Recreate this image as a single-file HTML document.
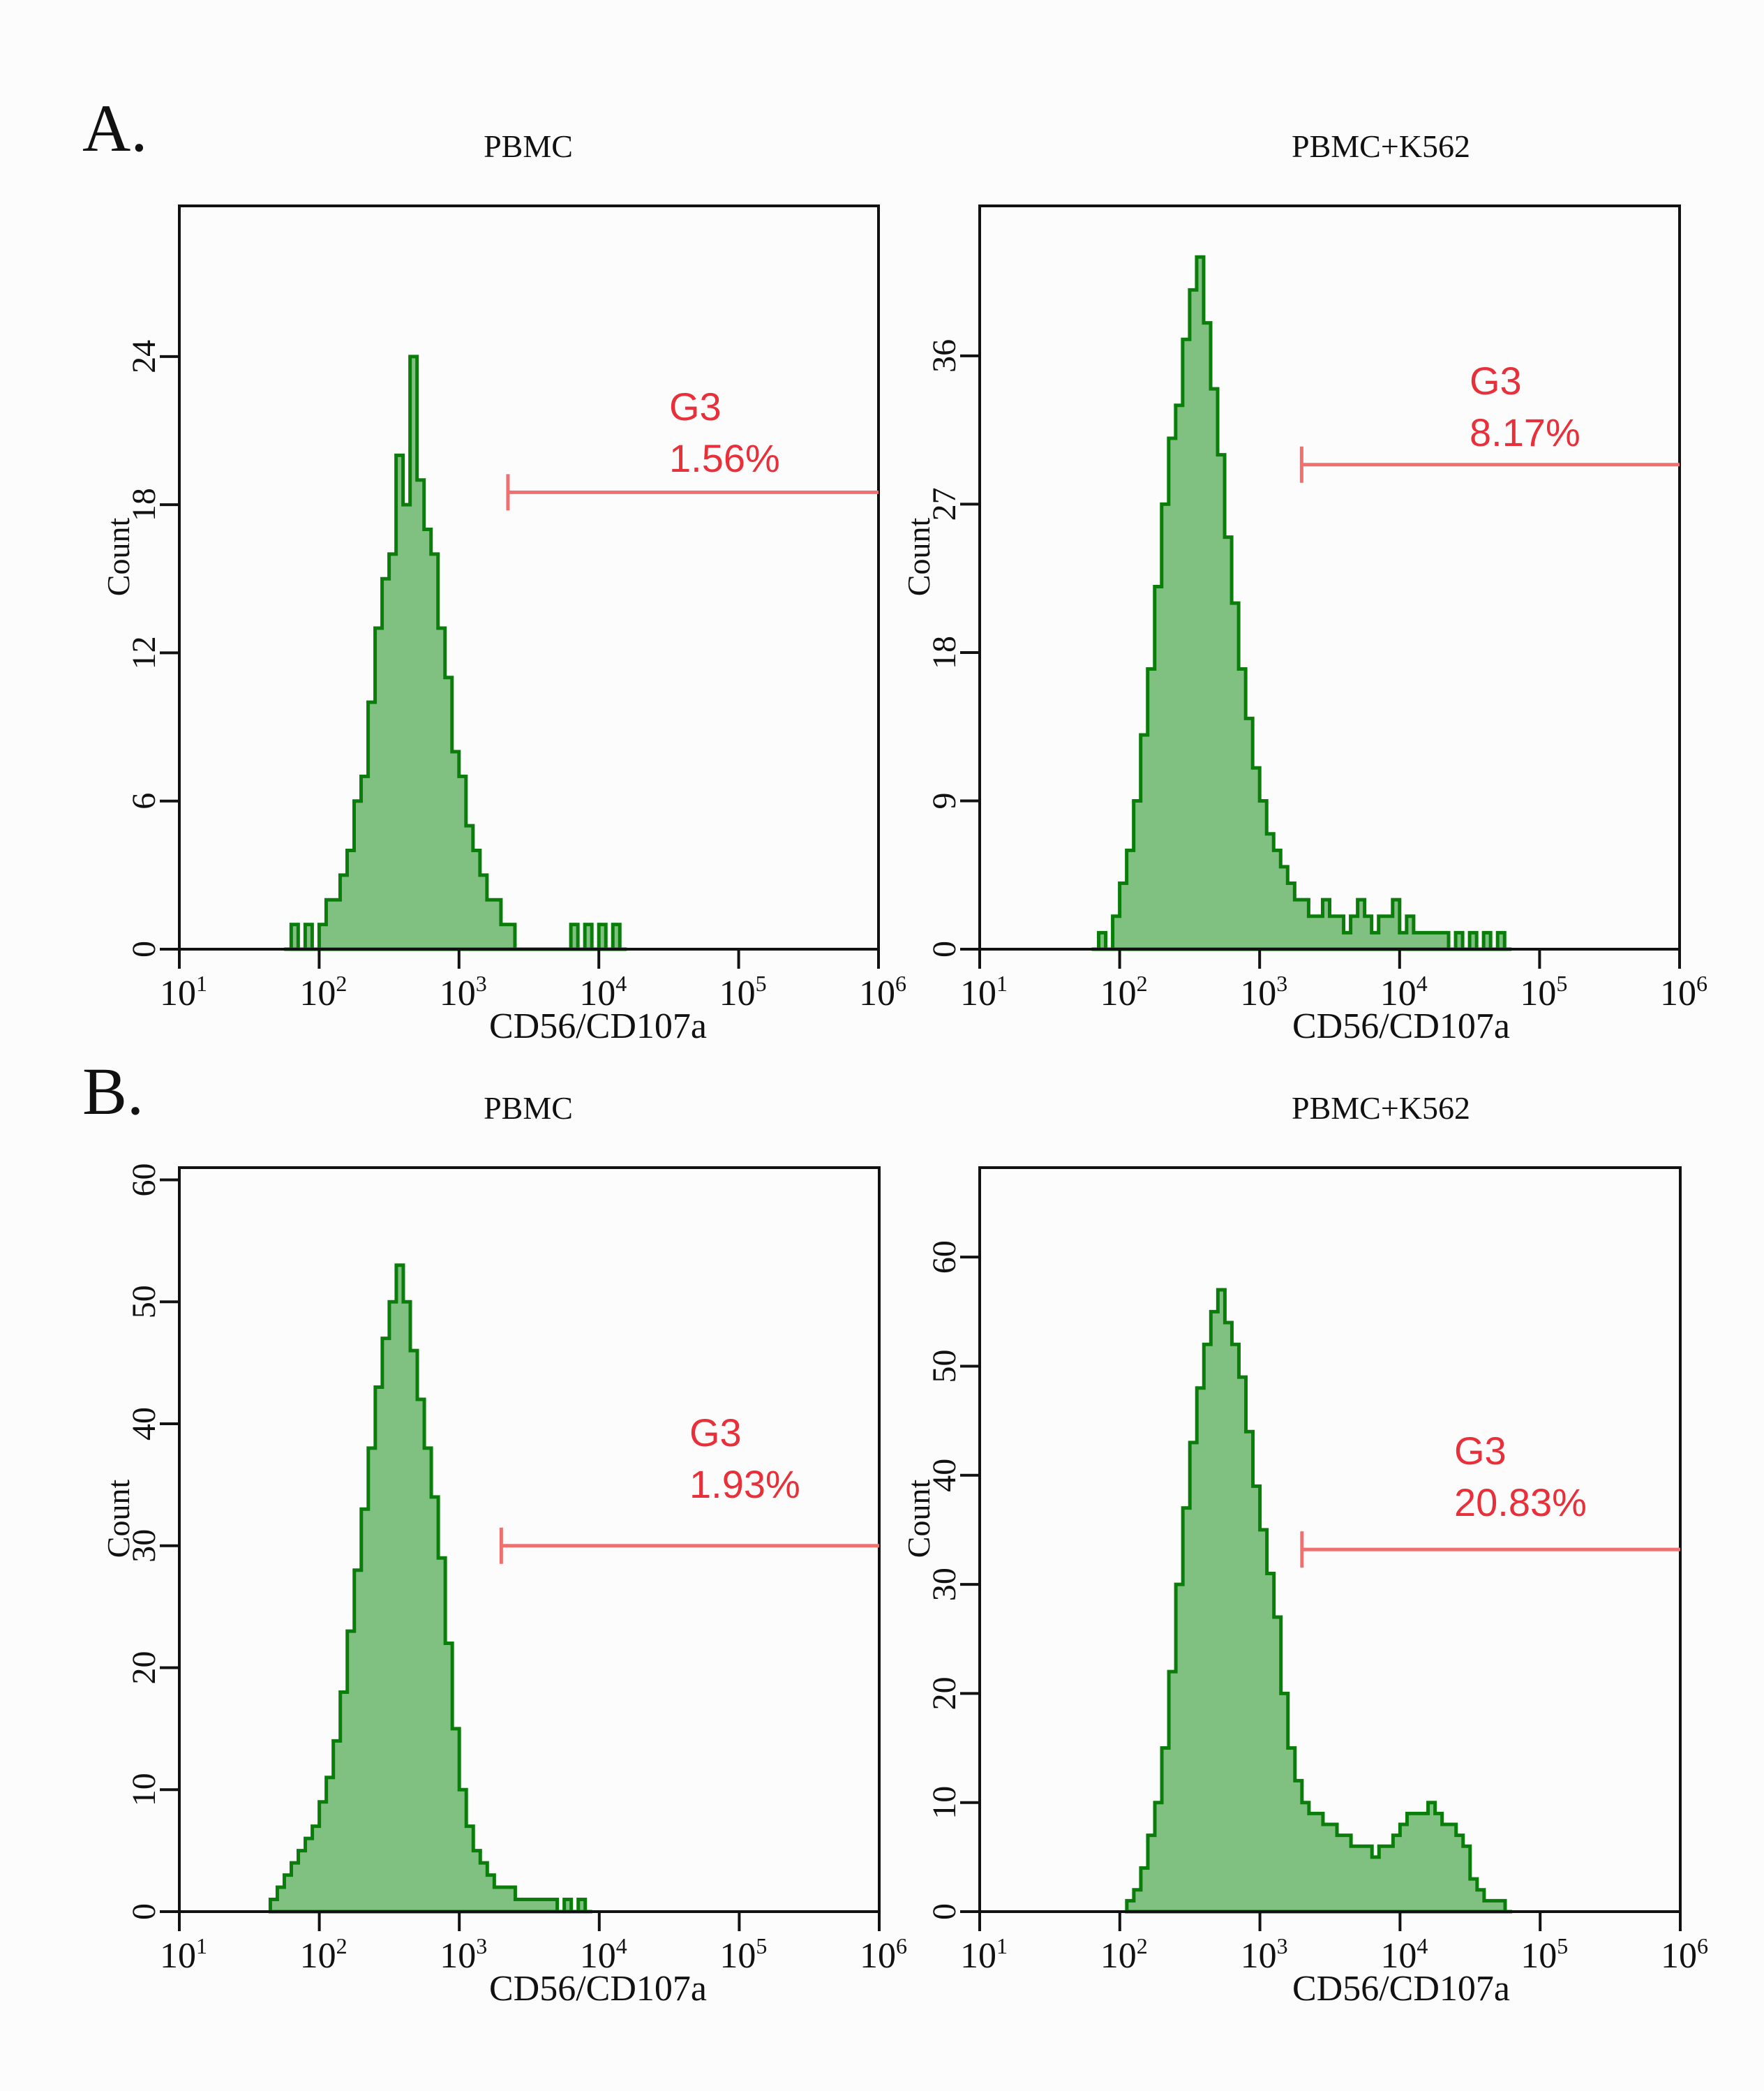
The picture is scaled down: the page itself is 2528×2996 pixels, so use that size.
<!DOCTYPE html>
<html><head><meta charset="utf-8"><style>
html,body{margin:0;padding:0;background:#fdfcfd;}
svg{display:block;}
text{font-family:"Liberation Serif",serif;fill:#111;}
.g3{font-family:"Liberation Sans",sans-serif;fill:#e8303a;font-size:56px;}
</style></head><body>
<svg id="fig" width="2528" height="2996" viewBox="0 0 2528 2996" xmlns="http://www.w3.org/2000/svg">
<rect x="0" y="0" width="2528" height="2996" fill="#fdfcfd"/>
<text x="118" y="216" font-size="96">A.</text>
<text x="118" y="1596" font-size="96">B.</text>
</svg>
<script>
// bin start positions (log10 units), step 0.05
const binStep = 0.05;
const tlStart = 1.75;
const tlCounts = [0,1,0,1,0,1,2,2,3,4,6,7,10,13,15,16,20,18,24,19,17,16,13,11,8,7,5,4,3,2,2,1,1,0,0,0,0,0,0,0,0,1,0,1,0,1,0,1,0];
const trStart = 1.80;
const trCounts = [0,1,0,2,4,6,9,13,17,22,27,31,33,37,40,42,38,34,30,25,21,17,14,11,9,7,6,5,4,3,3,2,2,3,2,2,1,2,3,2,1,2,2,3,1,2,1,1,1,1,1,0,1,0,1,0,1,0,1,0];
const blStart = 1.65;
const blCounts = [1,2,3,4,5,6,7,9,11,14,18,23,28,33,38,43,47,50,53,50,46,42,38,34,29,22,15,10,7,5,4,3,2,2,2,1,1,1,1,1,1,0,1,0,1,0];
const brStart = 2.05;
const brCounts = [1,2,4,7,10,15,22,30,37,43,48,52,55,57,54,52,49,44,39,35,31,27,20,15,12,10,9,9,8,8,7,7,6,6,6,5,6,6,7,8,9,9,9,10,9,8,8,7,6,3,2,1,1,1,0];
const xTickExps = ["1","2","3","4","5","6"];
const tlYTicks = [0,6,12,18,24];
const trYTicks = [0,9,18,27,36];
const blYTicks = [0,10,20,30,40,50,60];
const brYTicks = [0,10,20,30,40,50,60];
const tlYMax = 30.1, trYMax = 45.1, blYMax = 61.0, brYMax = 68.2;
const gateLabels = ["1.56%","8.17%","1.93%","20.83%"];
const gateLevels = [18.5, 29.4, 30.0, 33.2];
const gateStartLog = [3.35, 3.3, 3.3, 3.3];

const NS = "http://www.w3.org/2000/svg";
const svg = document.getElementById('fig');
function mk(tag, attrs, parent){
  const e = document.createElementNS(NS, tag);
  for (const k in attrs) e.setAttribute(k, attrs[k]);
  (parent||svg).appendChild(e);
  return e;
}
const panels = [
  {x0:257,x1:1259,y0:295,y1:1360,start:tlStart,counts:tlCounts,ticks:tlYTicks,ymax:tlYMax,title:"PBMC",tcx:757,xcx:857,gi:0,gx:959,gy:602,name:"a-pbmc"},
  {x0:1404,x1:2407,y0:295,y1:1360,start:trStart,counts:trCounts,ticks:trYTicks,ymax:trYMax,title:"PBMC+K562",tcx:1979,xcx:2008,gi:1,gx:2106,gy:565,name:"a-pbmc-k562"},
  {x0:257,x1:1260,y0:1673,y1:2739,start:blStart,counts:blCounts,ticks:blYTicks,ymax:blYMax,title:"PBMC",tcx:757,xcx:857,gi:2,gx:988,gy:2072,name:"b-pbmc"},
  {x0:1404,x1:2408,y0:1673,y1:2739,start:brStart,counts:brCounts,ticks:brYTicks,ymax:brYMax,title:"PBMC+K562",tcx:1979,xcx:2008,gi:3,gx:2084,gy:2098,name:"b-pbmc-k562"}
];
panels.forEach(p=>{
  const g = mk('g',{});
  
  
  const xs = l => p.x0 + (l-1)/5*(p.x1-p.x0);
  const ys = v => p.y1 - v/p.ymax*(p.y1-p.y0);
  const t = mk('text',{x:p.tcx,y:p.y0-70,'font-size':46,'text-anchor':'middle'},g);
  
  
  t.textContent = p.title;
  let d = 'M'+xs(p.start)+','+ys(0);
  p.counts.forEach((c,i)=>{
    const a = xs(p.start+i*binStep), b = xs(p.start+(i+1)*binStep);
    d += ' L'+a+','+ys(c)+' L'+b+','+ys(c);
  });
  d += ' L'+xs(p.start+p.counts.length*binStep)+','+ys(0)+' Z';
  const h = mk('path',{d:d,fill:'#80c080',stroke:'#0b7d0b','stroke-width':5,'stroke-linejoin':'miter'},g);
  
  
  const fr = mk('rect',{x:p.x0,y:p.y0,width:p.x1-p.x0,height:p.y1-p.y0,fill:'none',stroke:'#111','stroke-width':4},g);
  
  
  p.ticks.forEach(v=>{
    const y = ys(v);
    const tk = mk('line',{x1:p.x0-28,x2:p.x0,y1:y,y2:y,stroke:'#111','stroke-width':4},g);
    
    
    const bx = p.x0-35;
    const tl = mk('text',{x:bx,y:y,'font-size':48,'text-anchor':'middle',transform:'rotate(-90 '+bx+' '+y+')'},g);
    
    
    tl.textContent = v;
  });
  const cx = p.x0-72, cy = p.y0+503;
  const cl = mk('text',{x:cx,y:cy,'font-size':46,'text-anchor':'middle',transform:'rotate(-90 '+cx+' '+cy+')'},g);
  
  
  cl.textContent = 'Count';
  xTickExps.forEach((e,i)=>{
    const x = xs(i+1);
    const tk = mk('line',{x1:x,x2:x,y1:p.y1,y2:p.y1+28,stroke:'#111','stroke-width':4},g);
    
    
    const tl = mk('text',{x:x+6,y:p.y1+80,'font-size':52,'text-anchor':'middle'},g);
    
    
    tl.textContent = '10';
    const sp = mk('tspan',{'font-size':32,dy:-20},tl);
    sp.textContent = e;
  });
  const xt = mk('text',{x:p.xcx,y:p.y1+127,'font-size':52,'text-anchor':'middle'},g);
  
  
  xt.textContent = 'CD56/CD107a';
  const gy = ys(gateLevels[p.gi]), gx0 = xs(gateStartLog[p.gi]);
  const gl = mk('line',{x1:gx0,x2:p.x1,y1:gy,y2:gy,stroke:'#f07070','stroke-width':5},g);
  
  
  const gc = mk('line',{x1:gx0,x2:gx0,y1:gy-26,y2:gy+26,stroke:'#f07070','stroke-width':5},g);
  
  
  const g1 = mk('text',{x:p.gx,y:p.gy,class:'g3'},g);
  
  
  g1.textContent = 'G3';
  const g2 = mk('text',{x:p.gx,y:p.gy+74,class:'g3'},g);
  
  
  g2.textContent = gateLabels[p.gi];
});
</script>
</body></html>
